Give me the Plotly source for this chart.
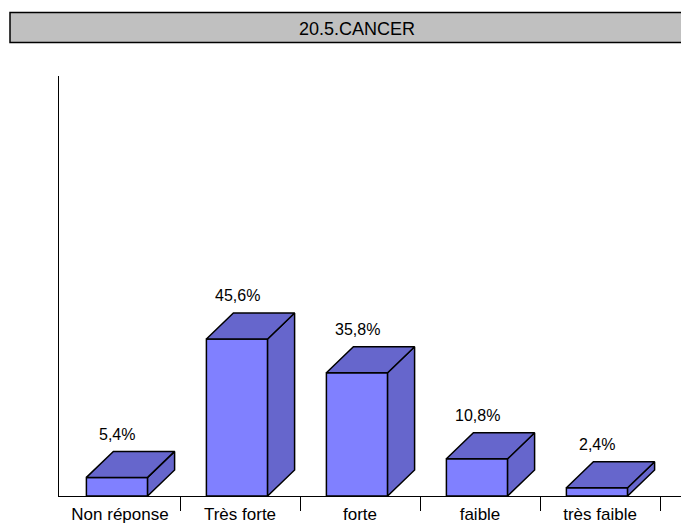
import plotly.graph_objects as go

categories = ["Non réponse", "Très forte", "forte", "faible", "très faible"]
values = [5.4, 45.6, 35.8, 10.8, 2.4]
labels = ["5,4%", "45,6%", "35,8%", "10,8%", "2,4%"]

FRONT = "#8080FF"
SHADE = "#6666CC"
OFF = 8  # page body margin
W, H = 689 - OFF, 526 - OFF
AX_X, AX_Y, TOP = 59, 496, 76   # reference pixel positions
L, T = AX_X - OFF, TOP - OFF
B = H - (AX_Y - OFF)
R = 0
PH = H - T - B
PW = W - L

bar_w = 0.51
shift = -0.025
dx = 0.225      # depth in x units
dy = 7.55       # depth in y units
ymax = (AX_Y - TOP) / 3.443

xs = [i + shift for i in range(len(categories))]

fig = go.Figure()

fig.add_trace(go.Bar(x=xs, y=values, width=bar_w, marker=dict(color=FRONT, line=dict(color="black", width=1.5)),
                     hoverinfo="skip", showlegend=False))

tx, ty, sx, sy = [], [], [], []
for x, v in zip(xs, values):
    x0, x1 = x - bar_w / 2, x + bar_w / 2
    tx += [x0, x0 + dx, x1 + dx, x1, x0, None]
    ty += [v, v + dy, v + dy, v, v, None]
    sx += [x1, x1, x1 + dx, x1 + dx, x1, None]
    sy += [0, v, v + dy, dy, 0, None]
fig.add_trace(go.Scatter(x=sx, y=sy, fill="toself", fillcolor=SHADE, mode="lines",
                         line=dict(color="black", width=1.5), hoverinfo="skip", showlegend=False))
fig.add_trace(go.Scatter(x=tx, y=ty, fill="toself", fillcolor=SHADE, mode="lines",
                         line=dict(color="black", width=1.5), hoverinfo="skip", showlegend=False))

for x, v, t in zip(xs, values, labels):
    fig.add_annotation(x=x, y=v + dy + 5.0, text=t, showarrow=False, yanchor="middle",
                       font=dict(family="Liberation Sans, Arial", size=16, color="black"))

xr = [-0.5 + (AX_X - 60) / 120.0, -0.5 + (689 - 60) / 120.0]

def px(x):
    return (x - AX_X) / PW

def py(y):
    return (AX_Y - y) / PH

fig.update_layout(
    width=W, height=H,
    margin=dict(l=L, r=R, t=T, b=B, autoexpand=False),
    paper_bgcolor="white", plot_bgcolor="white",
    font=dict(family="Liberation Sans, Arial", size=16, color="black"),
    xaxis=dict(range=xr, tickvals=list(range(len(categories))), ticktext=categories,
               tickfont=dict(size=17), ticks="", showline=True, linecolor="black", linewidth=1,
               showgrid=False, zeroline=False, ticklabelstandoff=3, automargin=False),
    xaxis2=dict(range=xr, overlaying="x", side="bottom", tickvals=[i + 0.5 for i in range(len(categories))],
                ticks="outside", ticklen=14, tickcolor="black", tickwidth=1,
                showticklabels=False, showline=False, showgrid=False, zeroline=False),
    yaxis=dict(range=[0, ymax], showline=True, linecolor="black", linewidth=1, showgrid=False,
               zeroline=False, showticklabels=False, ticks=""),
    shapes=[dict(type="rect", xref="paper", yref="paper",
                 x0=px(10), x1=px(700), y0=py(42.5), y1=py(12.5),
                 fillcolor="#C0C0C0", line=dict(color="black", width=1.5), layer="above")],
    annotations=list(fig.layout.annotations) + [
        dict(xref="paper", yref="paper", x=px(357), y=py(29.5),
             text="20.5.CANCER", showarrow=False, xanchor="center", yanchor="middle",
             font=dict(family="Liberation Sans, Arial", size=18, color="black"))],
)

fig.add_trace(go.Scatter(x=[None], y=[None], xaxis="x2", showlegend=False, hoverinfo="skip"))

fig.write_html("out.html")
